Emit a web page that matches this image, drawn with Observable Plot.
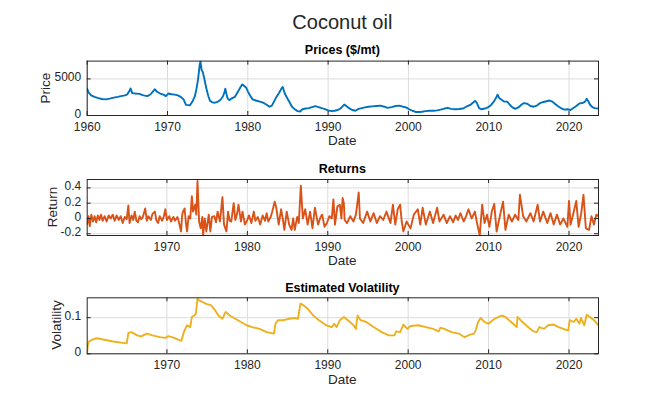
<!DOCTYPE html>
<html><head><meta charset="utf-8">
<script src="https://cdn.jsdelivr.net/npm/d3@7"></script>
<script src="https://cdn.jsdelivr.net/npm/@observablehq/plot@0.6"></script>
<style>
body{margin:0;background:#fff;}
#wrap{position:relative;width:661px;height:398px;font-family:"Liberation Sans",Arial,Helvetica,sans-serif;color:#262626;overflow:hidden;}
.t{position:absolute;white-space:nowrap;transform:translate(-50%,-50%);line-height:1;}
.r{transform:translate(-50%,-50%) rotate(-90deg);}
.panel{position:absolute;left:0;}
</style></head>
<body><div id="wrap"></div>
<script>
// ---- data (decimal years) ----
const priceYears = [1960.0,1960.2,1960.5,1960.9,1961.3,1961.8,1962.3,1962.8,1963.3,1963.8,1964.2,1964.7,1965.0,1965.3,1965.4,1965.6,1966.0,1966.5,1967.0,1967.5,1967.9,1968.2,1968.4,1968.7,1969.1,1969.5,1969.8,1970.1,1970.5,1970.9,1971.3,1971.7,1972.0,1972.3,1972.8,1973.1,1973.4,1973.6,1973.8,1974.0,1974.1,1974.25,1974.4,1974.55,1974.7,1974.9,1975.1,1975.3,1975.6,1975.9,1976.3,1976.6,1976.9,1977.1,1977.2,1977.35,1977.5,1977.7,1978.0,1978.4,1978.8,1979.1,1979.3,1979.5,1979.8,1980.0,1980.3,1980.6,1981.0,1981.5,1981.9,1982.3,1982.7,1983.0,1983.3,1983.6,1983.9,1984.2,1984.35,1984.6,1984.9,1985.2,1985.5,1985.8,1986.2,1986.5,1986.8,1987.2,1987.6,1988.0,1988.4,1988.8,1989.2,1989.6,1990.0,1990.4,1990.8,1991.2,1991.6,1992.0,1992.2,1992.6,1993.0,1993.4,1993.8,1994.2,1994.6,1995.0,1995.5,1996.0,1996.5,1997.0,1997.4,1997.9,1998.4,1998.9,1999.3,1999.7,2000.1,2000.5,2000.9,2001.3,2001.7,2002.1,2002.6,2003.1,2003.6,2004.0,2004.5,2004.9,2005.3,2005.8,2006.3,2006.8,2007.2,2007.7,2008.1,2008.3,2008.5,2008.8,2009.1,2009.5,2009.9,2010.3,2010.7,2011.0,2011.1,2011.3,2011.6,2011.9,2012.3,2012.6,2012.9,2013.3,2013.7,2014.1,2014.4,2014.8,2015.2,2015.6,2016.0,2016.4,2016.8,2017.2,2017.6,2017.9,2018.2,2018.6,2019.0,2019.4,2019.8,2020.2,2020.5,2020.9,2021.3,2021.7,2022.0,2022.2,2022.4,2022.6,2022.9,2023.2,2023.67];
const priceValues = [3650,3100,2750,2550,2400,2250,2200,2300,2450,2550,2650,2750,2900,3450,3700,3050,3000,2950,2750,2650,2900,3300,3580,3250,3000,2850,2650,3000,2900,2850,2750,2500,2200,1450,1400,1900,2600,3600,4900,6800,7400,6200,5900,5200,4400,3400,2600,2000,1800,1750,1900,2150,2600,3200,3650,2900,2300,2100,2350,2550,3300,3900,4250,4100,3800,3300,2700,2200,2050,1900,1750,1500,1200,1350,2000,2600,3100,3700,3900,3000,2400,1800,1200,900,600,550,850,950,1000,1150,1280,1150,1000,880,700,600,650,750,1000,1500,1350,1000,750,650,900,1000,1100,1200,1250,1300,1350,1200,1050,1150,1300,1350,1200,1100,850,650,480,480,520,600,650,650,700,800,950,1050,900,850,880,950,1200,1450,1800,2000,1750,1000,850,950,1100,1450,2000,2600,2850,2400,2150,1900,1900,1500,1150,900,1100,1500,1700,1600,1300,1200,1350,1700,1850,1950,2050,1900,1650,1300,1000,800,850,750,1000,1300,1650,1700,1900,2300,1950,1500,1150,1000,950];

const returnYears = [1960.08,1960.25,1960.4,1960.6,1960.8,1961.0,1961.2,1961.4,1961.6,1961.8,1962.0,1962.25,1962.5,1962.75,1963.0,1963.25,1963.5,1963.75,1964.0,1964.25,1964.5,1964.75,1965.0,1965.2,1965.35,1965.6,1965.8,1966.0,1966.2,1966.4,1966.6,1966.8,1967.0,1967.3,1967.5,1967.7,1968.0,1968.2,1968.5,1968.7,1968.9,1969.1,1969.4,1969.6,1969.8,1970.0,1970.3,1970.5,1970.8,1971.0,1971.3,1971.5,1971.75,1971.9,1972.0,1972.2,1972.35,1972.5,1972.7,1972.9,1973.1,1973.25,1973.5,1973.65,1973.8,1974.0,1974.2,1974.4,1974.5,1974.7,1974.9,1975.2,1975.4,1975.6,1975.9,1976.1,1976.3,1976.6,1976.9,1977.1,1977.4,1977.6,1977.8,1978.0,1978.3,1978.5,1978.7,1978.9,1979.2,1979.4,1979.7,1980.0,1980.2,1980.5,1980.8,1981.0,1981.3,1981.6,1981.9,1982.2,1982.4,1982.6,1982.9,1983.1,1983.4,1983.6,1983.9,1984.2,1984.4,1984.6,1984.9,1985.2,1985.5,1985.7,1985.9,1986.2,1986.4,1986.65,1986.9,1987.2,1987.5,1987.8,1988.1,1988.4,1988.8,1989.1,1989.3,1989.6,1989.9,1990.2,1990.5,1990.7,1990.9,1991.2,1991.5,1991.7,1991.85,1992.0,1992.1,1992.4,1992.8,1993.2,1993.5,1993.85,1994.0,1994.4,1994.9,1995.3,1995.7,1996.1,1996.5,1996.9,1997.3,1997.8,1998.1,1998.4,1998.7,1999.0,1999.2,1999.4,1999.8,2000.3,2000.7,2001.2,2001.5,2001.8,2002.2,2002.7,2003.1,2003.6,2003.9,2004.4,2004.8,2005.2,2005.6,2005.9,2006.2,2006.5,2006.9,2007.2,2007.5,2007.9,2008.3,2008.6,2008.9,2009.2,2009.5,2009.8,2010.1,2010.4,2010.7,2011.0,2011.4,2011.8,2012.1,2012.5,2012.9,2013.3,2013.7,2013.9,2014.3,2014.7,2015.2,2015.6,2016.1,2016.4,2016.8,2017.3,2017.7,2018.1,2018.5,2018.9,2019.3,2019.8,2020.0,2020.2,2020.6,2020.9,2021.2,2021.5,2021.8,2022.1,2022.5,2022.8,2023.1,2023.4,2023.67];
const returnValues = [-0.07,0.03,-0.10,0.05,-0.04,0.03,-0.05,0.04,-0.02,0.05,-0.03,0.03,-0.04,0.04,0.0,0.05,-0.03,0.04,-0.02,0.03,-0.06,0.02,-0.01,0.17,-0.06,0.04,-0.02,0.09,-0.03,-0.05,0.03,-0.01,0.02,0.13,-0.03,0.03,-0.02,0.06,0.09,-0.03,-0.06,0.03,-0.03,0.02,0.12,-0.02,0.03,-0.04,0.02,-0.03,0.02,-0.05,-0.17,0.05,0.09,0.13,-0.05,-0.17,0.03,0.0,0.29,0.09,0.18,0.05,0.49,-0.04,-0.13,0.02,-0.22,0.0,-0.17,0.05,-0.17,0.02,0.03,-0.05,0.09,-0.04,0.28,-0.08,-0.17,0.09,-0.03,-0.04,0.20,-0.02,0.05,0.18,-0.04,0.09,-0.08,-0.02,0.04,-0.06,0.09,-0.03,0.02,-0.08,0.04,-0.03,0.07,-0.04,0.02,0.09,0.22,0.14,-0.08,0.12,0.0,-0.15,0.09,-0.08,-0.15,0.0,-0.15,0.02,-0.06,0.43,0.0,0.12,-0.08,0.09,-0.13,0.14,-0.08,0.02,0.05,-0.11,-0.06,0.03,0.0,0.25,-0.08,0.16,0.18,0.0,0.27,0.20,-0.02,-0.06,0.03,-0.04,0.05,0.34,0.0,-0.06,0.09,-0.04,0.07,-0.06,0.03,-0.02,0.09,-0.06,0.18,-0.08,0.12,0.18,-0.04,-0.17,-0.04,-0.13,0.05,0.12,-0.08,0.14,-0.08,0.09,-0.06,0.14,-0.04,0.05,-0.06,0.03,-0.05,0.04,-0.02,0.07,-0.04,0.03,0.12,0.0,0.09,-0.08,-0.22,0.18,-0.06,0.05,-0.11,0.09,0.19,-0.17,0.03,0.22,-0.15,0.05,-0.04,0.05,-0.02,0.31,0.03,-0.04,0.07,-0.04,0.18,-0.04,0.09,-0.06,0.07,-0.08,0.05,-0.08,0.0,-0.11,0.23,-0.08,0.09,0.23,-0.11,0.05,0.31,-0.13,-0.15,0.03,-0.08,0.05,0.03];

const volYears = [1960.08,1960.15,1960.3,1960.8,1961.3,1962.2,1963.3,1964.3,1965.0,1965.2,1965.6,1966.3,1966.8,1967.5,1968.2,1969.1,1969.8,1970.2,1970.9,1971.4,1971.8,1972.1,1972.5,1972.9,1973.1,1973.4,1973.6,1973.8,1974.0,1974.4,1974.8,1975.5,1976.0,1976.4,1976.9,1977.3,1977.8,1978.5,1979.2,1979.9,1980.6,1981.5,1982.4,1983.3,1983.5,1983.8,1984.5,1985.2,1985.9,1986.3,1986.6,1987.0,1987.5,1988.2,1988.9,1989.8,1990.5,1990.8,1991.1,1991.5,1992.0,1992.5,1993.2,1993.5,1993.7,1994.1,1994.8,1995.7,1996.7,1997.6,1998.3,1998.5,1999.0,1999.4,1999.9,2000.3,2001.3,2002.2,2003.1,2003.8,2004.0,2004.5,2005.4,2006.3,2007.0,2007.7,2008.2,2008.4,2008.7,2009.0,2009.5,2010.0,2010.5,2010.9,2011.6,2012.1,2012.8,2013.5,2013.6,2014.2,2014.9,2015.6,2016.0,2016.3,2016.9,2017.4,2018.1,2018.7,2019.4,2019.9,2020.1,2020.6,2020.9,2021.3,2021.5,2021.9,2022.2,2022.6,2023.1,2023.67];
const volValues = [0.005,0.023,0.034,0.040,0.043,0.039,0.034,0.031,0.029,0.058,0.060,0.051,0.048,0.056,0.051,0.046,0.044,0.049,0.044,0.039,0.036,0.060,0.079,0.074,0.102,0.106,0.111,0.153,0.148,0.144,0.139,0.134,0.120,0.106,0.097,0.116,0.106,0.097,0.088,0.079,0.074,0.069,0.060,0.056,0.083,0.093,0.093,0.097,0.099,0.097,0.139,0.134,0.125,0.106,0.093,0.079,0.074,0.083,0.074,0.093,0.102,0.093,0.079,0.069,0.106,0.093,0.088,0.074,0.060,0.051,0.051,0.062,0.060,0.081,0.069,0.077,0.079,0.074,0.069,0.062,0.072,0.069,0.060,0.056,0.046,0.053,0.056,0.065,0.088,0.099,0.088,0.083,0.093,0.099,0.106,0.102,0.088,0.074,0.102,0.088,0.074,0.062,0.060,0.074,0.069,0.079,0.081,0.074,0.068,0.065,0.093,0.088,0.097,0.083,0.099,0.079,0.108,0.102,0.093,0.079];

const xTicks = [1960,1970,1980,1990,2000,2010,2020];
const priceTicks = [0,5000];
const returnTicks = [-0.2,0,0.2,0.4];
const volTicks = [0,0.1];

// ---- layout ----
const W = 661, L = 86.7, R = 598;
const wrap = document.getElementById("wrap");
const font = '"Liberation Sans",Arial,Helvetica,sans-serif';
const ink = "#262626";

function addText(txt, x, y, size, extra) {
  const d = document.createElement("div");
  d.className = "t" + (extra && extra.rot ? " r" : "");
  d.textContent = txt;
  d.style.left = x + "px"; d.style.top = y + "px";
  d.style.fontSize = size + "px";
  if (extra && extra.bold) d.style.fontWeight = "bold";
  if (extra && extra.color) d.style.color = extra.color;
  wrap.appendChild(d);
}

function panel({years, values, color, xDomain, yDomain, yTicks, yFmt, svgTop, plotTop, plotBottom}) {
  const H = 80;
  const ph = plotBottom - plotTop, pw = R - L;
  const data = years.map((t, i) => ({t, v: values[i]}));
  const xt = xTicks.filter(d => d >= xDomain[0] - 1e-9 && d <= xDomain[1]);
  const chart = Plot.plot({
    width: W, height: H,
    marginLeft: L, marginRight: W - R,
    marginTop: plotTop - svgTop, marginBottom: svgTop + H - plotBottom,
    style: {fontSize: "12px", fontFamily: font, color: ink, background: "transparent", overflow: "visible"},
    x: {domain: xDomain},
    y: {domain: yDomain},
    marks: [
      Plot.gridX(xt, {stroke: "#dcdcdc", strokeOpacity: 1}),
      Plot.gridY(yTicks, {stroke: "#dcdcdc", strokeOpacity: 1}),
      Plot.line(data, {x: "t", y: "v", stroke: color, strokeWidth: 1.9, clip: true}),
      Plot.frame({stroke: ink, strokeWidth: 1}),
      Plot.tickX(xt, {x: d => d, insetTop: ph - 4, stroke: ink}),
      Plot.tickX(xt, {x: d => d, insetBottom: ph - 4, stroke: ink}),
      Plot.tickY(yTicks, {y: d => d, insetRight: pw - 4, stroke: ink}),
      Plot.tickY(yTicks, {y: d => d, insetLeft: pw - 4, stroke: ink}),
      Plot.axisX(xt, {tickSize: 0, tickPadding: 7, tickFormat: d => String(d), label: null}),
      Plot.axisY(yTicks, {tickSize: 0, tickPadding: 6, tickFormat: yFmt, label: null, dy: -1.5})
    ]
  });
  chart.classList.add("panel");
  chart.style.top = svgTop + "px";
  wrap.appendChild(chart);
}

const numFmt = d => String(+d.toFixed(2));

panel({years: priceYears, values: priceValues, color: "#0072BD", xDomain: [1960, 2023.67], yDomain: [0, 7430],
  yTicks: priceTicks, yFmt: numFmt, svgTop: 56, plotTop: 60.6, plotBottom: 115});
panel({years: returnYears, values: returnValues, color: "#D95319", xDomain: [1960.083, 2023.67], yDomain: [-0.223, 0.51],
  yTicks: returnTicks, yFmt: numFmt, svgTop: 174, plotTop: 179, plotBottom: 235});
panel({years: volYears, values: volValues, color: "#EDB120", xDomain: [1960.083, 2023.67], yDomain: [0, 0.155],
  yTicks: volTicks, yFmt: numFmt, svgTop: 292, plotTop: 297.3, plotBottom: 353.3});

const cx = (L + R) / 2;
addText("Coconut oil", cx, 22, 20, {color: "#262626"});
addText("Prices ($/mt)", cx, 50, 12.5, {bold: true, color: "#000"});
addText("Returns", cx, 169, 12.5, {bold: true, color: "#000"});
addText("Estimated Volatility", cx, 288, 12.5, {bold: true, color: "#000"});
addText("Date", cx, 140.5, 13.5);
addText("Date", cx, 260.5, 13.5);
addText("Date", cx, 379.5, 13.5);
addText("Price", 46, 88, 13.5, {rot: true});
addText("Return", 53, 207, 13.5, {rot: true});
addText("Volatility", 57, 325, 13.5, {rot: true});
</script>
</body></html>
